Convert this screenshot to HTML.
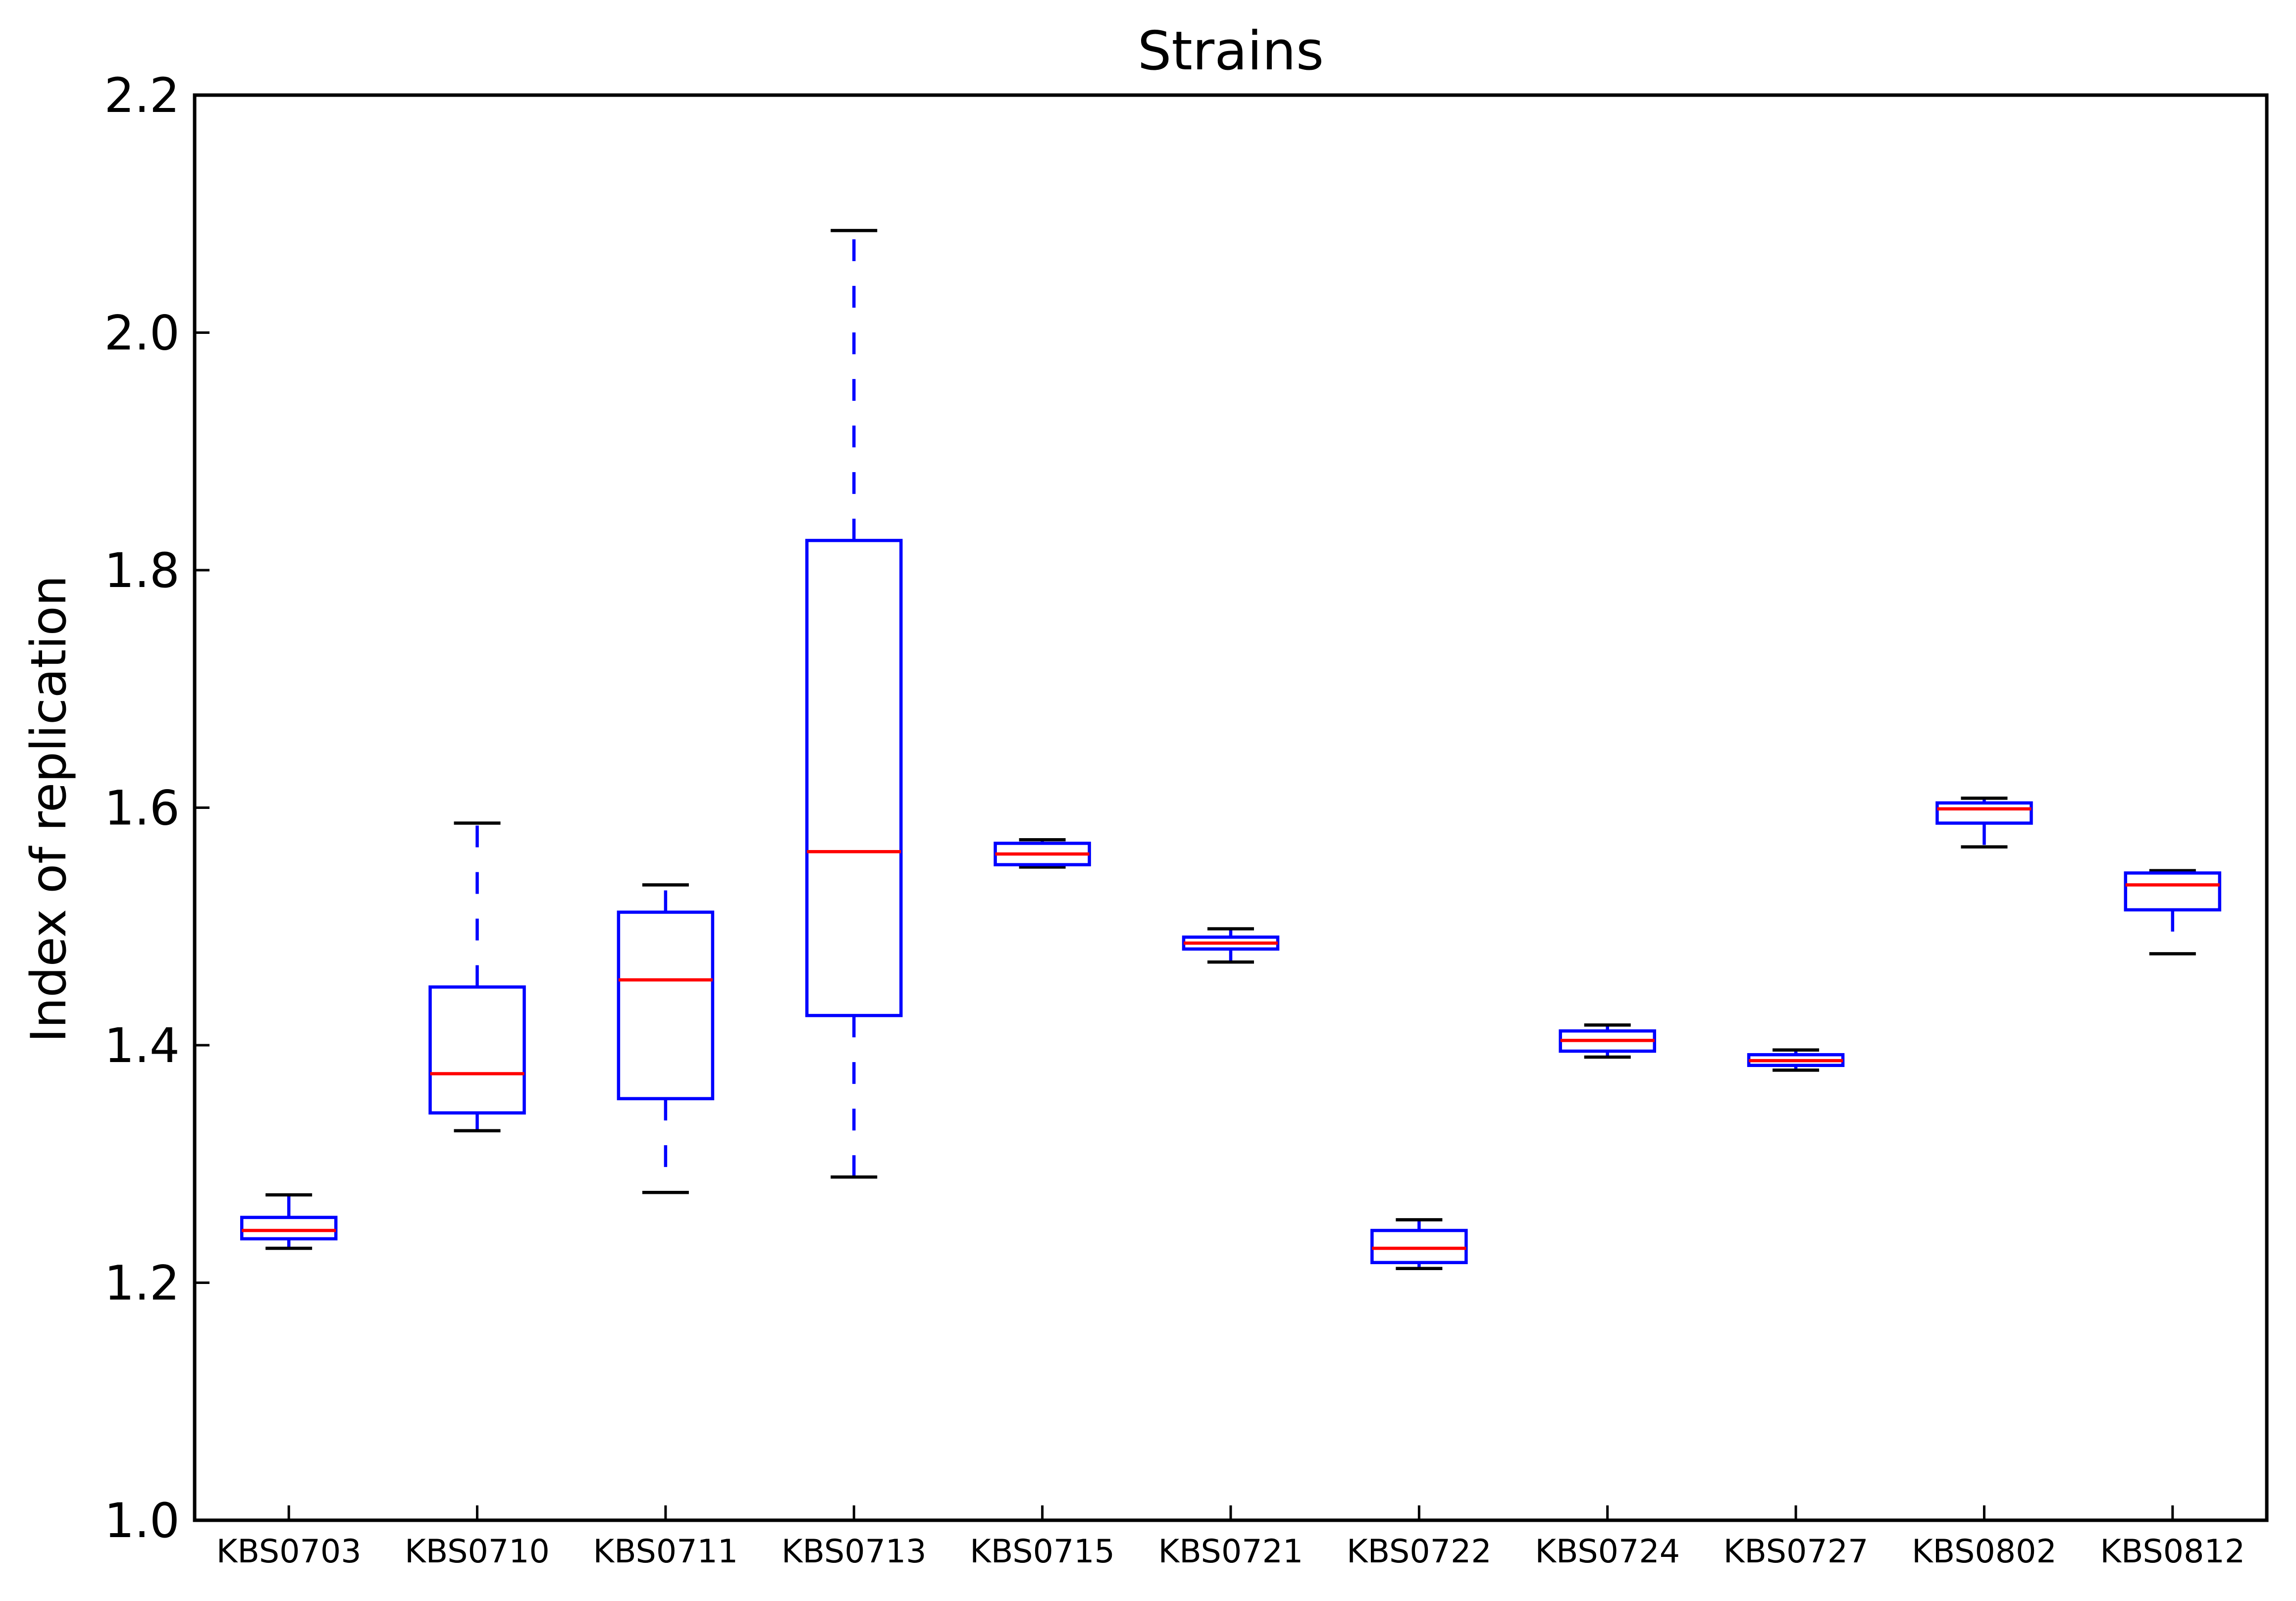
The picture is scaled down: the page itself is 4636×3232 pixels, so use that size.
<!DOCTYPE html>
<html><head><meta charset="utf-8"><style>
html,body{margin:0;padding:0;background:#fff}
svg{display:block}
text{font-family:"DejaVu Sans","Liberation Sans",sans-serif;fill:#000}
</style></head><body>
<svg id="chart" width="4636" height="3232" viewBox="0 0 4636 3232" xmlns="http://www.w3.org/2000/svg">
<rect width="4636" height="3232" fill="#fff"/>
<text x="2485" y="140" font-size="108" text-anchor="middle">Strains</text>
<text transform="translate(132,1633) rotate(-90)" font-size="98" text-anchor="middle">Index of replication</text>
<g id="marks"></g>
<rect x="393" y="192" width="4184" height="2877" fill="none" stroke="#000" stroke-width="7"/>
</svg>
<script>
const categories = ["KBS0703","KBS0710","KBS0711","KBS0713","KBS0715","KBS0721","KBS0722","KBS0724","KBS0727","KBS0802","KBS0812"];
const whiskerLow = [1.229,1.328,1.276,1.289,1.550,1.470,1.212,1.390,1.379,1.567,1.477];
const q1Values   = [1.237,1.343,1.355,1.425,1.552,1.481,1.217,1.395,1.383,1.587,1.514];
const medians    = [1.244,1.376,1.455,1.563,1.561,1.486,1.229,1.404,1.387,1.599,1.535];
const q3Values   = [1.255,1.449,1.512,1.825,1.570,1.491,1.244,1.412,1.392,1.604,1.545];
const whiskerHigh= [1.274,1.587,1.535,2.086,1.573,1.498,1.253,1.417,1.396,1.608,1.547];
const yTicks = [1.0,1.2,1.4,1.6,1.8,2.0,2.2];
const yTickLabels = ["1.0","1.2","1.4","1.6","1.8","2.0","2.2"];

const L=393,R=4577,T=192,B=3069,yMin=1.0,yMax=2.2;
const y = v => B-(v-yMin)/(yMax-yMin)*(B-T);
const step=(R-L)/categories.length;
const x = i => L+step*(i+0.5);
const NS="http://www.w3.org/2000/svg";
const g=document.getElementById('marks');
function mk(tag,attrs){const e=document.createElementNS(NS,tag);for(const k in attrs)e.setAttribute(k,attrs[k]);g.appendChild(e);return e;}

yTicks.forEach((v,i)=>{
  const t=mk('line',{x1:L,x2:L+30,y1:y(v),y2:y(v),stroke:'#000','stroke-width':5});
  
  
  const lb=mk('text',{x:L-30,y:y(v)+34,'font-size':96,'text-anchor':'end'});
  lb.textContent=yTickLabels[i];
  
  
});

const hw=95,cap=47;
categories.forEach((c,i)=>{
  const cx=x(i);
  const tk=mk('line',{x1:cx,x2:cx,y1:B,y2:B-30,stroke:'#000','stroke-width':5});
  
  
  const lb=mk('text',{x:cx,y:3154,'font-size':65,'text-anchor':'middle'});
  lb.textContent=c;
  
  

  const w1=mk('line',{x1:cx,x2:cx,y1:y(q3Values[i]),y2:y(whiskerHigh[i]),stroke:'#0000ff','stroke-width':6.5,'stroke-dasharray':'44 50'});
  
  
  const w2=mk('line',{x1:cx,x2:cx,y1:y(q1Values[i]),y2:y(whiskerLow[i]),stroke:'#0000ff','stroke-width':6.5,'stroke-dasharray':'44 50'});
  
  
  const c1=mk('line',{x1:cx-cap,x2:cx+cap,y1:y(whiskerHigh[i]),y2:y(whiskerHigh[i]),stroke:'#000','stroke-width':6.5});
  
  
  const c2=mk('line',{x1:cx-cap,x2:cx+cap,y1:y(whiskerLow[i]),y2:y(whiskerLow[i]),stroke:'#000','stroke-width':6.5});
  
  
  const bx=mk('rect',{x:cx-hw,y:y(q3Values[i]),width:2*hw,height:y(q1Values[i])-y(q3Values[i]),fill:'none',stroke:'#0000ff','stroke-width':6.5});
  
  
  const md=mk('line',{x1:cx-hw,x2:cx+hw,y1:y(medians[i]),y2:y(medians[i]),stroke:'#ff0000','stroke-width':6.5});
  
  
});
</script>
</body></html>
